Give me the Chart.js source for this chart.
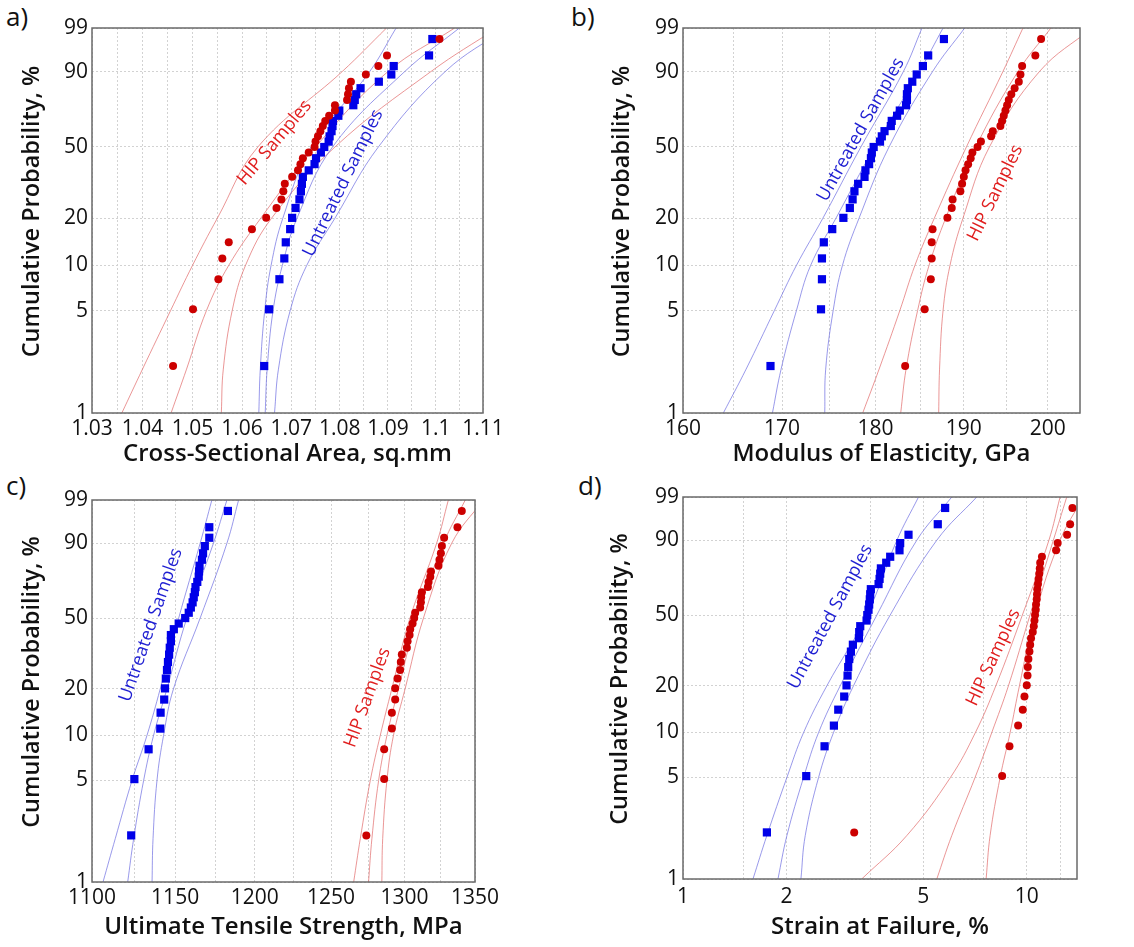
<!DOCTYPE html>
<html>
<head>
<meta charset="utf-8">
<script src="https://cdn.jsdelivr.net/npm/chart.js@4.4.0/dist/chart.umd.min.js"></script>
<style>
  body { margin: 0; background: #fff; width: 1134px; height: 947px; position: relative; overflow: hidden; font-family: "Open Sans", sans-serif; }
  .panel { position: absolute; }
  .tag { position: absolute; font-size: 26px; color: #111; line-height: 30px; }
</style>
</head>
<body>
<div class="tag" style="left:6px;top:1px">a)</div>
<div class="tag" style="left:571px;top:1px">b)</div>
<div class="tag" style="left:6px;top:470px">c)</div>
<div class="tag" style="left:578px;top:470px">d)</div>

<div class="panel" style="left:0;top:0"><canvas id="ca" width="567" height="470"></canvas></div>
<div class="panel" style="left:567px;top:0"><canvas id="cb" width="567" height="470"></canvas></div>
<div class="panel" style="left:0;top:470px"><canvas id="cc" width="567" height="477"></canvas></div>
<div class="panel" style="left:567px;top:470px"><canvas id="cd" width="567" height="477"></canvas></div>

<script>
// cumulative probability (%) of the 33 ranked samples, same in every panel
const probPct = [2.1, 5.1, 8.1, 11.1, 14.1, 17.1, 20.1, 23.1, 26.0, 29.0, 32.0, 35.0, 38.0, 41.0, 44.0, 47.0, 50.0,
                 53.0, 56.0, 59.0, 62.0, 65.0, 68.0, 71.0, 74.0, 76.9, 79.9, 82.9, 85.9, 88.9, 91.9, 94.9, 97.9];
const probTicks = [1, 5, 10, 20, 50, 90, 99];
// probability rows where the fit / confidence curves were read
const curvePct = [1, 2, 5, 10, 20, 50, 90, 99];

// a) cross-sectional area, sq.mm
const areaTicks = [1.03, 1.04, 1.05, 1.06, 1.07, 1.08, 1.09, 1.1, 1.11];
const areaGrid = [1.03, 1.035, 1.04, 1.045, 1.05, 1.055, 1.06, 1.065, 1.07, 1.075, 1.08, 1.085, 1.09, 1.095, 1.1, 1.105, 1.11];
const areaUnt = [1.0645, 1.0655, 1.0676, 1.0686, 1.0689, 1.0698, 1.0702, 1.0709, 1.0717, 1.0720, 1.0722, 1.0724, 1.0736, 1.0748, 1.0751, 1.0761, 1.0768,
                 1.0777, 1.0779, 1.0783, 1.0785, 1.0786, 1.0797, 1.0799, 1.0828, 1.0831, 1.0834, 1.0843, 1.0881, 1.0907, 1.0912, 1.0986, 1.0993];
const areaHip = [1.0461, 1.0501, 1.0552, 1.0560, 1.0573, 1.0620, 1.0649, 1.0670, 1.0680, 1.0684, 1.0687, 1.0702, 1.0714, 1.0719, 1.0724, 1.0736, 1.0748,
                 1.0750, 1.0755, 1.0760, 1.0765, 1.0770, 1.0778, 1.0790, 1.0790, 1.0815, 1.0817, 1.0819, 1.0823, 1.0854, 1.0880, 1.0898, 1.1008];
const areaUntLo  = [1.0634, 1.0637, 1.0646, 1.0659, 1.0683, 1.0741, 1.0862, 1.0917];
const areaUntFit = [1.0647, 1.0651, 1.0663, 1.0682, 1.0712, 1.0785, 1.0935, 1.1050];
const areaUntHi  = [1.0666, 1.0674, 1.0698, 1.0732, 1.0790, 1.0880, 1.1020, 1.1150];
const areaHipLo  = [1.0359, 1.0400, 1.0456, 1.0500, 1.0550, 1.0632, 1.0805, 1.0897];
const areaHipFit = [1.0457, 1.0488, 1.0528, 1.0573, 1.0638, 1.0750, 1.0900, 1.1040];
const areaHipHi  = [1.0558, 1.0562, 1.0580, 1.0607, 1.0660, 1.0790, 1.0990, 1.1130];

// b) modulus of elasticity, GPa
const modTicks = [160, 170, 180, 190, 200];
const modGrid = [160, 165, 170, 175, 180, 185, 190, 195, 200];
const modUnt = [168.8, 174.1, 174.2, 174.2, 174.4, 175.3, 176.5, 177.2, 177.5, 177.7, 178.1, 178.8, 178.9, 179.3, 179.5, 179.6, 179.8,
                180.5, 180.7, 181.0, 181.7, 181.8, 182.4, 182.7, 183.4, 183.5, 183.5, 183.6, 184.1, 184.6, 185.3, 185.9, 187.7];
const modHip = [183.3, 185.5, 186.2, 186.3, 186.3, 186.4, 188.1, 188.6, 188.7, 189.6, 189.8, 190.0, 190.2, 190.5, 190.8, 191.0, 191.6,
                192.0, 193.2, 193.4, 194.3, 194.5, 194.7, 194.9, 195.1, 195.3, 195.6, 196.0, 196.5, 196.7, 196.9, 198.5, 199.2];
const modUntLo  = [164.0, 166.3, 169.2, 171.5, 174.3, 178.4, 183.1, 185.2];
const modUntFit = [169.0, 169.9, 171.5, 173.0, 175.7, 179.9, 184.9, 187.6];
const modUntHi  = [174.5, 174.6, 175.4, 176.4, 178.2, 181.5, 186.4, 190.1];
const modHipLo  = [178.6, 180.4, 182.7, 184.4, 186.6, 190.3, 194.6, 197.0];
const modHipFit = [182.8, 183.4, 184.7, 186.0, 187.9, 191.4, 196.4, 200.4];
const modHipHi  = [187.1, 187.2, 187.6, 188.4, 189.9, 193.0, 199.0, 205.5];

// c) ultimate tensile strength, MPa
const utsTicks = [1100, 1150, 1200, 1250, 1300, 1350];
const utsGrid = [1100, 1125, 1150, 1175, 1200, 1225, 1250, 1275, 1300, 1325, 1350];
const utsUnt = [1123.3, 1125.2, 1133.8, 1140.9, 1141.1, 1143.3, 1143.8, 1144.3, 1145.0, 1145.6, 1146.3, 1146.7, 1147.4, 1147.4, 1149.2, 1152.2, 1156.2,
                1158.4, 1159.7, 1160.8, 1161.5, 1162.2, 1162.6, 1163.7, 1164.6, 1164.8, 1165.1, 1166.6, 1167.3, 1168.4, 1171.2, 1171.2, 1182.9];
const utsHip = [1273.8, 1286.0, 1286.0, 1291.3, 1291.3, 1293.6, 1293.6, 1295.2, 1297.0, 1297.5, 1298.2, 1301.7, 1302.2, 1303.6, 1304.0, 1305.7, 1306.8,
                1307.5, 1311.0, 1311.5, 1311.7, 1312.2, 1316.4, 1316.9, 1318.1, 1318.6, 1323.9, 1324.6, 1325.6, 1326.3, 1327.9, 1337.4, 1340.5];
const utsUntLo  = [1106.5, 1113.8, 1123.8, 1132.8, 1140.9, 1152.2, 1165.5, 1172.8];
const utsUntFit = [1121.2, 1124.8, 1130.8, 1136.8, 1145.0, 1157.2, 1173.8, 1182.3];
const utsUntHi  = [1135.9, 1136.5, 1138.9, 1142.9, 1149.0, 1165.5, 1182.3, 1189.7];
const utsHipLo  = [1265.2, 1269.7, 1276.5, 1283.3, 1291.3, 1303.9, 1322.6, 1330.9];
const utsHipFit = [1275.3, 1277.6, 1282.2, 1287.9, 1295.9, 1308.6, 1327.5, 1343.0];
const utsHipHi  = [1284.4, 1285.0, 1287.9, 1292.4, 1300.5, 1313.3, 1333.3, 1356.0];

// d) strain at failure, %
const strainTicks = [1, 2, 5, 10];
const strainGrid = [1, 1.5, 2, 3.5, 5, 7.5, 10, 12.5];
const strainUnt = [1.754, 2.283, 2.581, 2.748, 2.829, 2.944, 2.990, 3.011, 3.024, 3.045, 3.079, 3.120, 3.248, 3.255, 3.278, 3.420, 3.436,
                   3.465, 3.480, 3.495, 3.504, 3.519, 3.706, 3.731, 3.747, 3.764, 3.901, 4.006, 4.264, 4.283, 4.529, 5.510, 5.788];
const strainHip = [3.148, 8.479, 8.906, 9.437, 9.736, 9.847, 10.00, 10.05, 10.07, 10.11, 10.18, 10.23, 10.29, 10.41, 10.48, 10.53, 10.57,
                   10.62, 10.64, 10.69, 10.71, 10.73, 10.78, 10.82, 10.87, 10.91, 10.94, 11.07, 12.17, 12.30, 13.10, 13.37, 13.58];
const strainUntLo  = [1.598, 1.754, 2.006, 2.243, 2.622, 3.427, 4.190, 4.843];
const strainUntFit = [1.889, 2.006, 2.243, 2.480, 2.867, 3.664, 4.788, 6.053];
const strainUntHi  = [2.203, 2.268, 2.480, 2.741, 3.134, 4.006, 5.474, 7.154];
const strainHipLo  = [3.31, 4.48, 6.00, 7.09, 8.13, 9.71, 11.6, 12.5];
const strainHipFit = [5.474, 6.053, 7.075, 7.912, 8.846, 10.22, 11.95, 13.07];
const strainHipHi  = [7.616, 7.823, 8.366, 8.946, 9.521, 10.57, 12.50, 14.61];

const RED = '#cc0000', BLUE = '#0000e8';
const RED_LINE = 'rgba(225,105,105,0.7)', BLUE_LINE = 'rgba(110,110,225,0.7)';
const FONT = '"Open Sans", sans-serif';
const Y_TITLE = 'Cumulative Probability, %';

// weibull probability scale
const weib = p => Math.log(-Math.log(1 - p / 100));
const toPts = (xs, ps) => xs.map((v, i) => ({ x: v, y: weib(ps[i]) }));

function curve(xs, color) {
    return { data: toPts(xs, curvePct), showLine: true, borderColor: color, borderWidth: 1,
             pointRadius: 0, tension: 0.4, order: 2 };
}

function makePanel(p) {
    const extras = {
        id: 'extras',
        afterDatasetsDraw(chart) {
            const { ctx, chartArea: a, scales: { x, y } } = chart;
            ctx.save();
            ctx.strokeStyle = '#6a6a6a';
            ctx.lineWidth = 1.5;
            ctx.strokeRect(a.left, a.top, a.right - a.left, a.bottom - a.top);
            p.labels.forEach(l => {
                ctx.save();
                ctx.translate(x.getPixelForValue(l.x), y.getPixelForValue(weib(l.p)));
                ctx.rotate(l.angle * Math.PI / 180);
                ctx.fillStyle = l.color;
                ctx.font = '18px ' + FONT;
                ctx.textAlign = 'center';
                ctx.textBaseline = 'middle';
                ctx.fillText(l.text, 0, 0);
                ctx.restore();
            });
            // y axis title, drawn by hand to place it like the original
            ctx.translate(p.yTitleX, (a.top + a.bottom) / 2 + p.yTitleShift);
            ctx.rotate(-Math.PI / 2);
            ctx.fillStyle = '#111';
            ctx.font = '600 23.5px ' + FONT;
            ctx.textAlign = 'center';
            ctx.textBaseline = 'middle';
            ctx.fillText(Y_TITLE, 0, 0);
            ctx.restore();
        }
    };

    new Chart(document.getElementById(p.id), {
        type: 'scatter',
        data: {
            datasets: [
                { data: toPts(p.hip, probPct), pointStyle: 'circle', pointRadius: 4, backgroundColor: RED, borderWidth: 0, order: 0 },
                { data: toPts(p.unt, probPct), pointStyle: 'rect', pointRadius: 5.8, backgroundColor: BLUE, borderWidth: 0, order: 1 },
                curve(p.untLo, BLUE_LINE), curve(p.untFit, BLUE_LINE), curve(p.untHi, BLUE_LINE),
                curve(p.hipLo, RED_LINE), curve(p.hipFit, RED_LINE), curve(p.hipHi, RED_LINE)
            ]
        },
        options: {
            responsive: false,
            animation: false,
            events: [],
            layout: { padding: { left: 0, top: p.top, right: p.right, bottom: 0 } },
            plugins: { legend: { display: false }, tooltip: { enabled: false } },
            scales: {
                x: {
                    type: 'logarithmic',
                    min: p.xMin, max: p.xMax,
                    afterBuildTicks: s => { s.ticks = p.grid.map(v => ({ value: v })); },
                    afterFit: s => { s.height = p.xHeight; },
                    ticks: {
                        autoSkip: false, maxRotation: 0, minRotation: 0, padding: p.xTickPad,
                        color: '#111', font: { family: FONT, size: 21 },
                        callback: v => {
                            const m = p.ticks.find(t => Math.abs(t - v) < 1e-9);
                            return m === undefined ? '' : String(m);
                        }
                    },
                    grid: { color: '#d2d2d2', lineWidth: 1, drawTicks: false },
                    border: { display: false, dash: [2, 2] },
                    title: { display: true, text: p.xTitle, color: '#111',
                             font: { family: FONT, size: 24, weight: '600' }, padding: { top: 0, bottom: p.xTitlePad } }
                },
                y: {
                    type: 'linear',
                    min: weib(1), max: weib(99), bounds: 'data',
                    afterBuildTicks: s => { s.ticks = probTicks.map(v => ({ value: weib(v) })); },
                    afterFit: s => { s.width = p.left; },
                    ticks: {
                        autoSkip: false, padding: 4, color: '#111', font: { family: FONT, size: 21 },
                        callback: (v, i) => String(probTicks[i])
                    },
                    grid: { color: '#d2d2d2', lineWidth: 1, drawTicks: false },
                    border: { display: false, dash: [2, 2] },
                    title: { display: false }
                }
            }
        },
        plugins: [extras]
    });
}

makePanel({
    id: 'ca', left: 92, top: 28, right: 84, xHeight: 57, xTickPad: 3, xTitlePad: 1, yTitleX: 32, yTitleShift: -9,
    xMin: 1.03, xMax: 1.11, ticks: areaTicks, grid: areaGrid, xTitle: 'Cross-Sectional Area, sq.mm',
    unt: areaUnt, hip: areaHip,
    untLo: areaUntLo, untFit: areaUntFit, untHi: areaUntHi, hipLo: areaHipLo, hipFit: areaHipFit, hipHi: areaHipHi,
    labels: [
        { text: 'HIP Samples', x: 1.0666, p: 52.4, angle: -50, color: '#e01e1e' },
        { text: 'Untreated Samples', x: 1.0807, p: 32.3, angle: -64, color: '#1e1ed2' }
    ]
});

makePanel({
    id: 'cb', left: 116, top: 28, right: 54, xHeight: 57, xTickPad: 3, xTitlePad: 1, yTitleX: 55, yTitleShift: -9,
    xMin: 160, xMax: 204, ticks: modTicks, grid: modGrid, xTitle: 'Modulus of Elasticity, GPa',
    unt: modUnt, hip: modHip,
    untLo: modUntLo, untFit: modUntFit, untHi: modUntHi, hipLo: modHipLo, hipFit: modHipFit, hipHi: modHipHi,
    labels: [
        { text: 'Untreated Samples', x: 178.4, p: 59.9, angle: -61, color: '#1e1ed2' },
        { text: 'HIP Samples', x: 193.7, p: 28.3, angle: -64, color: '#e01e1e' }
    ]
});

makePanel({
    id: 'cc', left: 92, top: 30, right: 92, xHeight: 65, xTickPad: 3, xTitlePad: 5, yTitleX: 32, yTitleShift: -9,
    xMin: 1100, xMax: 1350, ticks: utsTicks, grid: utsGrid, xTitle: 'Ultimate Tensile Strength, MPa',
    unt: utsUnt, hip: utsHip,
    untLo: utsUntLo, untFit: utsUntFit, untHi: utsUntHi, hipLo: utsHipLo, hipFit: utsHipFit, hipHi: utsHipHi,
    labels: [
        { text: 'Untreated Samples', x: 1135.2, p: 46.2, angle: -71, color: '#1e1ed2' },
        { text: 'HIP Samples', x: 1274.6, p: 17.6, angle: -70, color: '#e01e1e' }
    ]
});

makePanel({
    id: 'cd', left: 116, top: 27, right: 57, xHeight: 68, xTickPad: 5, xTitlePad: 5, yTitleX: 53, yTitleShift: -9,
    xMin: 1, xMax: 14, ticks: strainTicks, grid: strainGrid, xTitle: 'Strain at Failure, %',
    unt: strainUnt, hip: strainHip,
    untLo: strainUntLo, untFit: strainUntFit, untHi: strainUntHi, hipLo: strainHipLo, hipFit: strainHipFit, hipHi: strainHipHi,
    labels: [
        { text: 'Untreated Samples', x: 2.681, p: 49.0, angle: -62, color: '#1e1ed2' },
        { text: 'HIP Samples', x: 8.0, p: 29.6, angle: -65, color: '#e01e1e' }
    ]
});
</script>
</body>
</html>
